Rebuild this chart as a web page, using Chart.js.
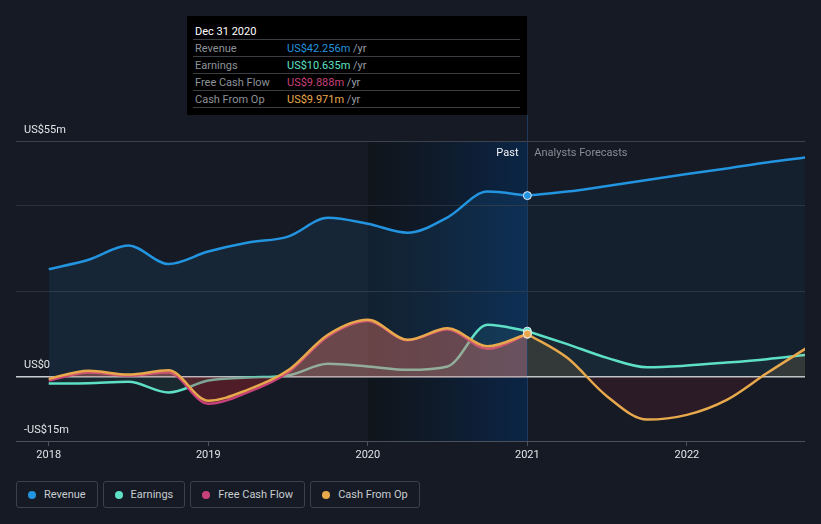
<!DOCTYPE html>
<html>
<head>
<meta charset="utf-8">
<script src="https://cdn.jsdelivr.net/npm/chart.js@4/dist/chart.umd.min.js"></script>
<style>
    body { margin: 0; background: #151a24; font-family: Roboto, "Noto Sans", sans-serif; }
    #wrap { position: relative; width: 821px; height: 524px; overflow: hidden; background: #151a24; }
    #chart_canvas { position: absolute; left: 0; top: 0; }
    #tip_box { position: absolute; top: 16px; width: 340px; height: 99px; background: #000; box-sizing: border-box; }
    .tip_inner { margin-left: 6px; width: 327px; }
    .tip_title { height: 24px; box-sizing: border-box; padding: 9px 0 0 2px; line-height: 13px; font-size: 11px; color: #fff; border-bottom: 1px solid #3a3d42; }
    .tip_row { height: 17px; box-sizing: border-box; padding-top: 1px; line-height: 15px; font-size: 11px; border-bottom: 1px solid #3a3d42; white-space: nowrap; }
    .tip_label { display: inline-block; width: 94px; padding-left: 2px; box-sizing: border-box; color: #8d9299; }
    .tip_unit { color: #9a9ea5; }
    .zone_label { position: absolute; top: 146px; font-size: 11px; line-height: 14px; white-space: nowrap; }
    #legend_box { position: absolute; left: 16px; top: 481px; display: flex; gap: 5px; }
    .legend_item { height: 27px; box-sizing: border-box; border: 1px solid #3b414b; border-radius: 3px; padding: 0 11px 0 11px; display: flex; align-items: center; font-size: 11px; color: #c9ccd1; }
    .legend_dot { width: 8px; height: 8px; border-radius: 50%; margin-right: 8px; }
</style>
</head>
<body>
<div id="wrap">
    <canvas id="chart_canvas" width="821" height="470"></canvas>
    <div id="tip_box"><div class="tip_inner" id="tip_inner"></div></div>
    <div class="zone_label" id="past_label" style="color:#f2f3f5">Past</div>
    <div class="zone_label" id="forecast_label" style="color:#878c94">Analysts Forecasts</div>
    <div id="legend_box"></div>
</div>
<script>
var seriesNames = ['Revenue', 'Earnings', 'Free Cash Flow', 'Cash From Op'];
var seriesColors = ['#2394df', '#5ee0c6', '#c9417b', '#e8a94c'];

// past values, US$m, trailing twelve months
var pastDates = [2018.0, 2018.25, 2018.5, 2018.75, 2019.0, 2019.25, 2019.5, 2019.75, 2020.0, 2020.25, 2020.5, 2020.75, 2021.0];
var revenuePast = [25.1, 27.3, 30.6, 26.3, 29.2, 31.3, 32.7, 37.1, 35.7, 33.6, 37.2, 43.2, 42.256];
var earningsPast = [-1.6, -1.5, -1.2, -3.7, -0.9, -0.2, 0.3, 3.0, 2.4, 1.6, 2.4, 12.1, 10.635];
var fcfPast = [-0.9, 1.0, 0.3, 1.0, -6.3, -3.6, 1.0, 9.4, 13.0, 8.5, 11.0, 6.5, 9.888];
var cfoPast = [-0.5, 1.4, 0.5, 1.5, -5.6, -3.0, 1.5, 9.8, 13.3, 8.6, 11.3, 7.1, 9.971];

// analysts forecasts
var forecastDates = [2021.0, 2021.25, 2021.5, 2021.75, 2022.0, 2022.25, 2022.5, 2022.75];
var revenueForecast = [42.256, 43.2, 44.5, 45.9, 47.3, 48.6, 50.0, 51.2];
var earningsForecast = [10.635, 7.6, 4.4, 2.2, 2.6, 3.3, 4.1, 5.1];
var cfoForecast = [9.971, 4.4, -4.6, -10.0, -8.9, -5.4, 0.8, 6.7];

var yearTicks = [2018, 2019, 2020, 2021, 2022];
var yGridValues = [-15, 0, 20, 40, 55];
var yLabels = {'55': 'US$55m', '0': 'US$0', '-15': '-US$15m'};
var tipTitle = 'Dec 31 2020';
var pastStart = 2020, pastEnd = 2021;
var xMin = 2017.795, xMax = 2022.74;

Chart.defaults.font.family = 'Roboto';

var makePoints = function (dates, values) {
    return dates.map(function (d, i) { return {x: d, y: values[i]}; });
}

var lineSet = function (label, dates, values, color, order, above, below, hoverDot) {
    let last = values.length - 1;
    return {
        label: label,
        data: makePoints(dates, values),
        borderColor: color,
        borderWidth: 2.5,
        order: order,
        fill: {target: 'origin', above: above, below: below},
        pointRadius: values.map((v, i) => (hoverDot && i === last) ? 4 : 0),
        pointBackgroundColor: color,
        pointBorderColor: '#e8ecf0',
        pointBorderWidth: 1
    };
}

var datasets = [
    lineSet('Revenue', pastDates, revenuePast, seriesColors[0], 10, 'rgba(35,148,223,0.10)', 'rgba(35,148,223,0.10)', true),
    lineSet('Revenue forecast', forecastDates, revenueForecast, seriesColors[0], 10, 'rgba(35,148,223,0.055)', 'rgba(35,148,223,0.055)', false),
    lineSet('Earnings', pastDates, earningsPast, seriesColors[1], 8, 'rgba(94,224,198,0.07)', 'rgba(94,224,198,0.07)', true),
    lineSet('Earnings forecast', forecastDates, earningsForecast, seriesColors[1], 8, 'rgba(94,224,198,0.05)', 'rgba(94,224,198,0.05)', false),
    lineSet('Free Cash Flow', pastDates, fcfPast, seriesColors[2], 6, 'rgba(201,65,123,0.30)', 'rgba(200,40,50,0.20)', true),
    lineSet('Cash From Op', pastDates, cfoPast, seriesColors[3], 4, 'rgba(232,169,76,0.20)', 'rgba(200,40,50,0.15)', true),
    lineSet('Cash From Op forecast', forecastDates, cfoForecast, seriesColors[3], 4, 'rgba(232,169,76,0.13)', 'rgba(200,40,60,0.12)', false)
];

// past band + hover line, drawn under the grid
var pastBandPlugin = {
    id: 'pastBand',
    beforeDraw: function (chart) {
        let ctx = chart.ctx;
        let area = chart.chartArea;
        let x0 = chart.scales.x.getPixelForValue(pastStart);
        let x1 = chart.scales.x.getPixelForValue(pastEnd);
        let grad = ctx.createLinearGradient(x0, 0, x1, 0);
        grad.addColorStop(0, '#10151c');
        grad.addColorStop(0.4, '#0f1a29');
        grad.addColorStop(1, '#0b2546');
        ctx.save();
        ctx.fillStyle = grad;
        ctx.fillRect(x0, area.top, x1 - x0, area.bottom - area.top);
        ctx.strokeStyle = '#1f3a5c';
        ctx.lineWidth = 1;
        ctx.beginPath();
        ctx.moveTo(Math.round(x1) + 0.5, 115);
        ctx.lineTo(Math.round(x1) + 0.5, area.bottom);
        ctx.stroke();
        ctx.restore();
    }
};

var chart = new Chart('chart_canvas', {
    type: 'line',
    data: {datasets: datasets},
    options: {
        responsive: false,
        animation: false,
        devicePixelRatio: 1,
        events: [],
        layout: {padding: {top: 141, left: 16, right: 16, bottom: 0}},
        elements: {line: {cubicInterpolationMode: 'monotone'}},
        plugins: {legend: {display: false}, tooltip: {enabled: false}},
        scales: {
            x: {
                type: 'linear',
                min: xMin,
                max: xMax,
                afterBuildTicks: function (s) { s.ticks = yearTicks.map(v => ({value: v})); },
                afterFit: function (s) { s.height = 29; },
                border: {display: false},
                grid: {drawOnChartArea: false, tickLength: 5, color: '#4b515a'},
                ticks: {color: '#e2e4e8', font: {size: 11}, padding: 3, maxRotation: 0, autoSkip: false,
                    callback: function (v) { return String(v); }}
            },
            y: {
                min: -15,
                max: 55,
                afterBuildTicks: function (s) { s.ticks = yGridValues.map(v => ({value: v})); },
                afterFit: function (s) { s.width = 0; },
                border: {display: false},
                grid: {
                    drawTicks: false,
                    color: function (c) {
                        if (c.tick.value === 0) return '#c9ccd1';
                        if (c.tick.value === -15) return '#4b515a';
                        if (c.tick.value === 55) return '#3d434c';
                        return '#2a313c';
                    },
                    lineWidth: function (c) { return c.tick.value === 0 ? 1.5 : 1; }
                },
                ticks: {mirror: true, padding: 8, labelOffset: -11, color: '#e2e4e8', font: {size: 11},
                    callback: function (v) { return yLabels[String(v)] || ''; }}
            }
        }
    },
    plugins: [pastBandPlugin]
});

// tooltip, zone labels and legend as html
var tipValues = [revenuePast, earningsPast, fcfPast, cfoPast].map(a => a[a.length - 1]);
var x2021 = chart.scales.x.getPixelForValue(pastEnd);
var tipInner = document.getElementById('tip_inner');
var titleDiv = document.createElement('div');
titleDiv.className = 'tip_title';
titleDiv.innerText = tipTitle;
tipInner.appendChild(titleDiv);
for (let i = 0; i < seriesNames.length; i++) {
    let row = document.createElement('div');
    row.className = 'tip_row';
    row.innerHTML = '<span class="tip_label">' + seriesNames[i] + '</span>' +
        '<span style="color:' + seriesColors[i] + '">US$' + tipValues[i].toFixed(3) + 'm</span>' +
        '<span class="tip_unit"> /yr</span>';
    tipInner.appendChild(row);
}
var tipBox = document.getElementById('tip_box');
tipBox.style.left = (Math.round(x2021) - 340) + 'px';

var pastLabel = document.getElementById('past_label');
pastLabel.style.left = (x2021 - 9 - pastLabel.offsetWidth) + 'px';
document.getElementById('forecast_label').style.left = (x2021 + 7) + 'px';

var legendBox = document.getElementById('legend_box');
for (let i = 0; i < seriesNames.length; i++) {
    let item = document.createElement('div');
    item.className = 'legend_item';
    item.innerHTML = '<span class="legend_dot" style="background:' + seriesColors[i] + '"></span>' + seriesNames[i];
    legendBox.appendChild(item);
}
</script>
</body>
</html>
